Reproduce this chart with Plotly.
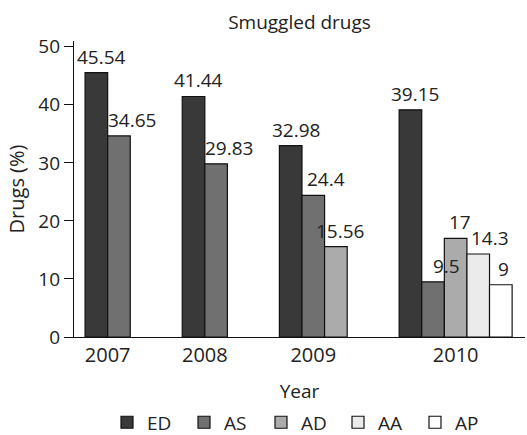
import plotly.graph_objects as go

# ---- data ----
years = ["2007", "2008", "2009", "2010"]
series = ["ED", "AS", "AD", "AA", "AP"]
ED = [45.54, 41.44, 32.98, 39.15]
AS = [34.65, 29.83, 24.4, 9.5]
AD = [None, None, 15.56, 17]
AA = [None, None, None, 14.3]
AP = [None, None, None, 9]
y_ticks = [0, 10, 20, 30, 40, 50]

values = {"ED": ED, "AS": AS, "AD": AD, "AA": AA, "AP": AP}
colors = {"ED": "#393939", "AS": "#707070", "AD": "#ababab", "AA": "#ebebeb", "AP": "#ffffff"}
label_dx = {"ED": 5, "AS": 13, "AD": 4, "AA": 12, "AP": 3}  # label offset style per series (px)

FONT = "Open Sans"
TXT = "#222222"
GAP = 2.3  # gap between year groups, in bar widths

# slot layout: bars of a year are placed side by side, only for present series
n_per_year = [sum(values[s][i] is not None for s in series) for i in range(len(years))]
starts = []
cursor = 0.0
for n in n_per_year:
    starts.append(cursor)
    cursor += n + GAP
centers = [st + n / 2 for st, n in zip(starts, n_per_year)]
x_end = starts[-1] + n_per_year[-1]

fig = go.Figure()
annotations = []
for k, s in enumerate(series):
    xs, ys = [], []
    for i in range(len(years)):
        v = values[s][i]
        if v is None:
            continue
        xs.append(starts[i] + k + 0.5)
        ys.append(v)
    fig.add_trace(go.Bar(
        x=xs, y=ys, name=s, width=1,
        marker=dict(color=colors[s], line=dict(color="#111111", width=1.2)),
        hoverinfo="skip",
    ))
    for xv, yv in zip(xs, ys):
        annotations.append(dict(
            x=xv, y=yv, xref="x", yref="y", text=f"{yv:g}", showarrow=False,
            xanchor="center", yanchor="bottom", xshift=label_dx[s], yshift=2,
            borderpad=0,
            font=dict(family=FONT, size=19, color=TXT),
        ))

fig.update_layout(
    width=527, height=435,
    margin=dict(l=74, r=2, t=41, b=98, autoexpand=False),
    paper_bgcolor="white", plot_bgcolor="white",
    barmode="overlay",
    font=dict(family=FONT, size=19, color=TXT),
    title=dict(text="Smuggled drugs", x=0.5, xref="paper", xanchor="center",
               y=1 - 22 / 435, yref="container", yanchor="middle",
               font=dict(family=FONT, size=19, color=TXT)),
    showlegend=True,
    legend=dict(orientation="h", x=0.5, xanchor="center", xref="paper",
                y=(336.7 - 422) / 295.7, yref="paper", yanchor="middle",
                font=dict(family=FONT, size=19, color=TXT),
                entrywidth=32, itemwidth=30, traceorder="normal"),
    annotations=annotations,
)
fig.update_xaxes(
    range=[-0.49, x_end + 0.57], tickvals=centers, ticktext=years,
    showline=True, linecolor="#111111", linewidth=1.3, ticks="",
    showgrid=False, zeroline=False,
    tickfont=dict(family=FONT, size=20, color=TXT),
    title=dict(text="Year", font=dict(family=FONT, size=19, color=TXT), standoff=17),
)
fig.update_yaxes(
    range=[0, 51], tickvals=y_ticks,
    showline=True, linecolor="#111111", linewidth=1.3,
    ticks="outside", ticklen=9, tickcolor="#111111", tickwidth=1.3,
    showgrid=False, zeroline=False,
    tickfont=dict(family=FONT, size=19, color=TXT),
    title=dict(text="Drugs (%)", font=dict(family=FONT, size=20, color=TXT), standoff=8),
)

fig.write_html("out.html", config={"displayModeBar": False},
               post_script="document.body.style.margin='0';document.body.style.overflow='hidden';")
